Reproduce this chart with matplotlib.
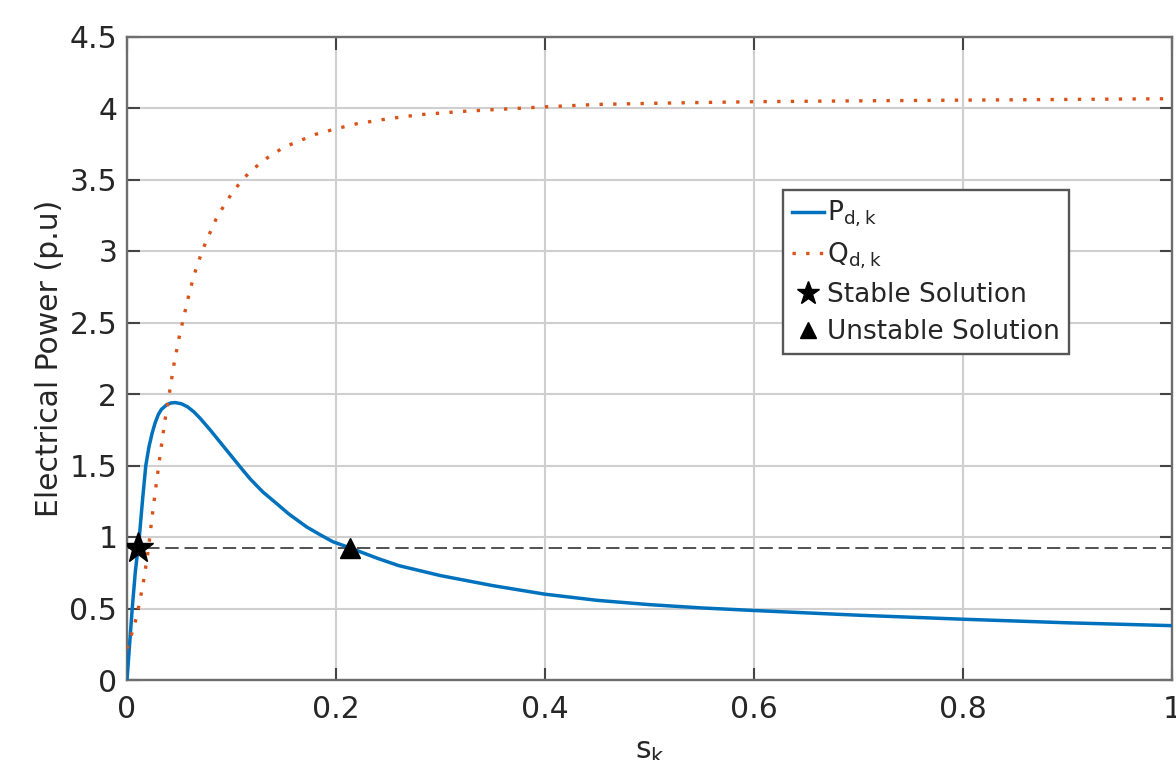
import matplotlib
matplotlib.use("Agg")
import matplotlib.pyplot as plt
from matplotlib.lines import Line2D

# ---- data ----
s_p = [0, 0.0025, 0.005, 0.008, 0.0118, 0.015, 0.018, 0.021, 0.024, 0.027, 0.030,
       0.033, 0.038, 0.042, 0.046, 0.052, 0.058, 0.064, 0.070, 0.080, 0.090, 0.100,
       0.110, 0.118, 0.130, 0.143, 0.155, 0.172, 0.185, 0.197, 0.213, 0.240, 0.260,
       0.300, 0.350, 0.400, 0.450, 0.500, 0.550, 0.600, 0.700, 0.800, 0.900, 1.000]
p_vals = [0, 0.25, 0.50, 0.76, 1.00, 1.27, 1.50, 1.63, 1.725, 1.80, 1.857,
          1.893, 1.925, 1.937, 1.94, 1.932, 1.91, 1.875, 1.83, 1.745, 1.655, 1.565,
          1.475, 1.405, 1.315, 1.235, 1.16, 1.07, 1.015, 0.967, 0.925, 0.85, 0.80,
          0.73, 0.66, 0.60, 0.557, 0.527, 0.504, 0.486, 0.453, 0.425, 0.40, 0.38]

s_q = [0, 0.004, 0.008, 0.012, 0.016, 0.020, 0.024, 0.028, 0.032, 0.036, 0.040,
       0.045, 0.050, 0.055, 0.060, 0.067, 0.075, 0.085, 0.093, 0.100, 0.110, 0.120,
       0.135, 0.150, 0.165, 0.180, 0.200, 0.220, 0.250, 0.280, 0.320, 0.360, 0.400,
       0.450, 0.520, 0.600, 0.700, 0.800, 0.900, 1.000]
q_vals = [0.22, 0.31, 0.41, 0.54, 0.70, 0.89, 1.14, 1.37, 1.59, 1.80, 1.98,
          2.21, 2.40, 2.56, 2.72, 2.90, 3.055, 3.22, 3.32, 3.40, 3.495, 3.57,
          3.655, 3.725, 3.77, 3.815, 3.855, 3.89, 3.925, 3.953, 3.976, 3.992, 4.008,
          4.025, 4.035, 4.044, 4.05, 4.055, 4.06, 4.065]

p_load = 0.92
stable_s = 0.0108
unstable_s = 0.213

x_ticks = [0, 0.2, 0.4, 0.6, 0.8, 1.0]
x_tick_labels = ['0', '0.2', '0.4', '0.6', '0.8', '1']
y_ticks = [0, 0.5, 1, 1.5, 2, 2.5, 3, 3.5, 4, 4.5]
y_tick_labels = ['0', '0.5', '1', '1.5', '2', '2.5', '3', '3.5', '4', '4.5']

labels = [r'$\mathregular{P_{d,k}}$', r'$\mathregular{Q_{d,k}}$',
          'Stable Solution', 'Unstable Solution']

# ---- styling ----
BLUE = '#0072BD'
ORANGE = '#D95319'
TXT = '#262626'
FS = 21.5

plt.rcParams['font.family'] = ['DejaVu Sans']
plt.rcParams['mathtext.fontset'] = 'dejavusans'

fig = plt.figure(figsize=(11.76, 7.6), dpi=100)
ax = fig.add_axes([127 / 1176, 80 / 760, 1045 / 1176, 643.5 / 760])

ax.plot(s_p, p_vals, color=BLUE, lw=2.5, zorder=3, solid_joinstyle='round')
ax.plot(s_q, q_vals, color=ORANGE, lw=2.4, linestyle=(0, (1, 3.1)), zorder=4)
ax.plot([0, 1], [p_load, p_load], color='#333333', lw=1.2,
        linestyle=(0, (8, 3.5)), zorder=2)
ax.plot([stable_s], [p_load], marker='*', color='black', ms=23, zorder=5, ls='none')
ax.plot([unstable_s], [p_load], marker='^', color='black', ms=15, zorder=5, ls='none')

ax.set_xlim(0, 1)
ax.set_ylim(0, 4.5)
ax.set_xticks(x_ticks)
ax.set_xticklabels(x_tick_labels)
ax.set_yticks(y_ticks)
ax.set_yticklabels(y_tick_labels)
ax.tick_params(direction='in', length=9, width=1.5, color='#444444',
               labelsize=FS, labelcolor=TXT, top=True, right=True)
ax.tick_params(axis='x', pad=11)
ax.tick_params(axis='y', pad=7)

ax.grid(True, color='#cfcfcf', lw=1.5)
ax.set_axisbelow(True)
for sp in ax.spines.values():
    sp.set_color('#6e6e6e')
    sp.set_linewidth(1.7)

ax.set_ylabel('Electrical Power (p.u)', fontsize=FS, color=TXT, labelpad=4)
ax.set_xlabel(r'$\mathregular{s_k}$', fontsize=FS, color=TXT, labelpad=9)

handles = [
    Line2D([], [], color=BLUE, lw=2.5),
    Line2D([], [], color=ORANGE, lw=2.4, linestyle=(0, (1, 3.1))),
    Line2D([], [], color='black', marker='*', ms=17, ls='none'),
    Line2D([], [], color='black', marker='^', ms=12, ls='none'),
]
leg = ax.legend(handles, labels, loc='upper left', bbox_to_anchor=(0.628, 0.762),
                borderaxespad=0, fontsize=19, handlelength=1.2, handletextpad=0.12,
                borderpad=0.35, labelspacing=0.42, fancybox=False, framealpha=1,
                edgecolor='#555555')
leg.get_frame().set_linewidth(1.7)
for t in leg.get_texts():
    t.set_color(TXT)

fig.savefig('out.png', dpi=100)
